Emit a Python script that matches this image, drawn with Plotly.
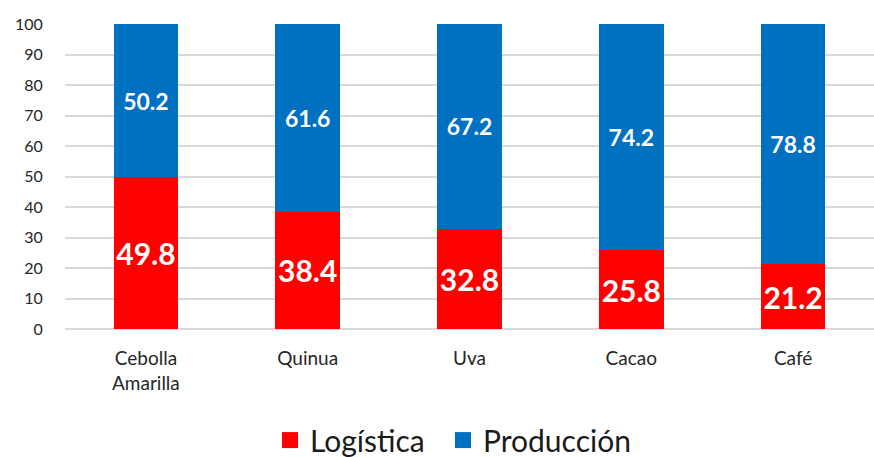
import plotly.graph_objects as go

categories = ["Cebolla<br>Amarilla", "Quinua", "Uva", "Cacao", "Café"]
logistica = [49.8, 38.4, 32.8, 25.8, 21.2]
produccion = [50.2, 61.6, 67.2, 74.2, 78.8]
y_ticks = [0, 10, 20, 30, 40, 50, 60, 70, 80, 90, 100]

FONT = "Lato, Carlito, Calibri, sans-serif"
RED = "#FF0000"
BLUE = "#0070C0"

fig = go.Figure()
fig.add_trace(go.Bar(
    x=categories, y=logistica, name="Logística", showlegend=False,
    marker=dict(color=RED, line=dict(width=0)),
    text=[f"{v:.1f}" for v in logistica], textposition="inside",
    insidetextanchor="middle", textangle=0, constraintext="none",
    textfont=dict(color="white", size=30, family=FONT, weight="bold"),
))
fig.add_trace(go.Bar(
    x=categories, y=produccion, name="Producción", showlegend=False,
    marker=dict(color=BLUE, line=dict(width=0)),
    text=[f"{v:.1f}" for v in produccion], textposition="inside",
    insidetextanchor="middle", textangle=0, constraintext="none",
    textfont=dict(color="white", size=23, family=FONT, weight="bold"),
))
# legend entries with larger square swatches, each in its own legend box
for name, col, lg in [("Logística", RED, "legend"), ("Producción", BLUE, "legend2")]:
    fig.add_trace(go.Scatter(
        x=[None], y=[None], mode="markers", name=name,
        marker=dict(symbol="square", size=17, color=col),
        showlegend=True, legend=lg,
    ))

legend_common = dict(orientation="h", xanchor="left", xref="container",
                     y=0.037, yanchor="middle", yref="container",
                     font=dict(size=30, color="#1a1a1a", family=FONT),
                     itemwidth=30, bgcolor="rgba(0,0,0,0)")

fig.update_layout(
    barmode="stack",
    bargap=0.6,
    width=874, height=457,
    margin=dict(l=65, r=0, t=24, b=128, autoexpand=False),
    plot_bgcolor="white", paper_bgcolor="white",
    font=dict(family=FONT, color="#262626"),
    legend=dict(x=270 / 874, **legend_common),
    legend2=dict(x=443 / 874, **legend_common),
    xaxis=dict(tickfont=dict(size=19, color="#262626"), showgrid=False,
               ticks="outside", ticklen=12, tickcolor="rgba(0,0,0,0)",
               showline=False),
    yaxis=dict(range=[0, 100], tickvals=y_ticks, tickfont=dict(size=16, color="#262626"),
               showgrid=True, gridcolor="#D9D9D9", gridwidth=1.5,
               ticks="outside", ticklen=18, tickcolor="rgba(0,0,0,0)",
               zeroline=True, zerolinecolor="#D9D9D9", zerolinewidth=1.5,
               showline=False),
)

fig.write_html("out.html", config={"displayModeBar": False},
               post_script="document.body.style.margin='0';")
